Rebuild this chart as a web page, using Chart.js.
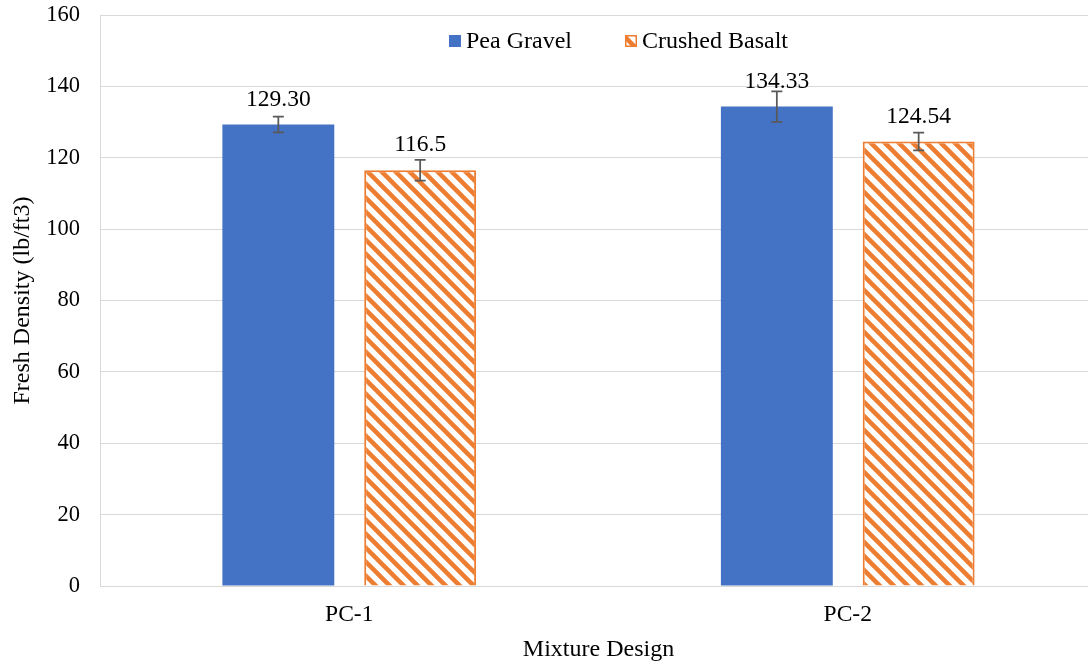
<!DOCTYPE html>
<html>
<head>
<meta charset="utf-8">
<script src="https://cdn.jsdelivr.net/npm/chart.js@4.4.1/dist/chart.umd.min.js"></script>
<style>
  html, body { margin: 0; padding: 0; background: #fff; overflow: hidden; }
  #wrap { width: 1098px; height: 664px; }
</style>
</head>
<body>
<div id="wrap"><canvas id="densityChart" width="1098" height="664"></canvas></div>
<script>
// Chart data
const categories = ["PC-1", "PC-2"];
const seriesNames = ["Pea Gravel", "Crushed Basalt"];
const peaGravel = [129.30, 134.33];
const crushedBasalt = [116.5, 124.54];
const peaGravelErr = [2.2, 4.3];
const crushedBasaltErr = [2.9, 2.5];
const peaGravelLabels = ["129.30", "134.33"];
const crushedBasaltLabels = ["116.5", "124.54"];
const yTicks = [0, 20, 40, 60, 80, 100, 120, 140, 160];

const BLUE = "#4472C4";
const ORANGE = "#ED7D31";
const FONT = "'Liberation Serif', 'Times New Roman', serif";

// Diagonal hatch pattern for the basalt bars
function makeHatch() {
    const size = 14;
    const c = document.createElement("canvas");
    c.width = size;
    c.height = size;
    const g = c.getContext("2d");
    g.fillStyle = "#fff";
    g.fillRect(0, 0, size, size);
    g.strokeStyle = ORANGE;
    g.lineWidth = 4.5;
    for (let k = -size; k <= size; k += size) {
        g.beginPath();
        g.moveTo(k - 2, -2);
        g.lineTo(k + size + 2, size + 2);
        g.stroke();
    }
    return g.createPattern(c, "repeat");
}

const hatch = makeHatch();

// Data labels, error bars and legend drawn on top
const extrasPlugin = {
    id: "extras",
    afterDatasetsDraw(chart) {
        const ctx = chart.ctx;
        const yScale = chart.scales.y;
        const errs = [peaGravelErr, crushedBasaltErr];
        const labels = [peaGravelLabels, crushedBasaltLabels];

        ctx.save();
        ctx.font = "23.5px " + FONT;
        ctx.fillStyle = "#000";
        ctx.textAlign = "center";
        ctx.textBaseline = "middle";
        chart.data.datasets.forEach((ds, i) => {
            chart.getDatasetMeta(i).data.forEach((bar, j) => {
                ctx.fillText(labels[i][j], bar.x, bar.y - 25);
            });
        });

        // error bars
        ctx.strokeStyle = "#595959";
        ctx.lineWidth = 1.75;
        chart.data.datasets.forEach((ds, i) => {
            chart.getDatasetMeta(i).data.forEach((bar, j) => {
                const v = ds.data[j];
                const top = yScale.getPixelForValue(v + errs[i][j]);
                const bot = yScale.getPixelForValue(v - errs[i][j]);
                ctx.beginPath();
                ctx.moveTo(bar.x, top);
                ctx.lineTo(bar.x, bot);
                ctx.moveTo(bar.x - 5.5, top);
                ctx.lineTo(bar.x + 5.5, top);
                ctx.moveTo(bar.x - 5.5, bot);
                ctx.lineTo(bar.x + 5.5, bot);
                ctx.stroke();
            });
        });

        // legend
        ctx.font = "24px " + FONT;
        ctx.textAlign = "left";
        ctx.fillStyle = BLUE;
        ctx.fillRect(449, 35, 12, 12);
        ctx.fillStyle = "#000";
        ctx.fillText(seriesNames[0], 466, 42);
        ctx.fillStyle = hatch;
        ctx.fillRect(625, 35, 12, 12);
        ctx.strokeStyle = ORANGE;
        ctx.lineWidth = 1.5;
        ctx.strokeRect(625.75, 35.75, 10.5, 10.5);
        ctx.fillStyle = "#000";
        ctx.fillText(seriesNames[1], 642, 42);
        ctx.restore();
    }
};

const ctx = document.getElementById("densityChart").getContext("2d");

new Chart(ctx, {
    type: "bar",
    data: {
        labels: categories,
        datasets: [{
            label: seriesNames[0],
            data: peaGravel,
            backgroundColor: BLUE,
            borderWidth: 0
        }, {
            label: seriesNames[1],
            data: crushedBasalt,
            backgroundColor: hatch,
            borderColor: ORANGE,
            borderWidth: 2
        }]
    },
    options: {
        responsive: false,
        animation: false,
        layout: { padding: { top: 15, right: 1, left: 0, bottom: 0 } },
        categoryPercentage: 0.569,
        barPercentage: 0.789,
        plugins: {
            legend: { display: false },
            tooltip: { enabled: false }
        },
        scales: {
            x: {
                grid: { display: false, drawTicks: false },
                border: { color: "#D9D9D9", width: 1 },
                ticks: { color: "#000", font: { family: FONT, size: 23.5 }, padding: 15 },
                title: {
                    display: true,
                    text: "Mixture Design",
                    color: "#000",
                    font: { family: FONT, size: 24 },
                    padding: { top: 0, bottom: 0 }
                },
                afterFit(scale) { scale.height = 78; }
            },
            y: {
                min: 0,
                max: 160,
                afterBuildTicks(scale) { scale.ticks = yTicks.map(v => ({ value: v })); },
                grid: { color: "#D9D9D9", lineWidth: 1, drawTicks: false },
                border: { color: "#D9D9D9", width: 1 },
                ticks: { color: "#000", font: { family: FONT, size: 22.5 }, padding: 20 },
                title: {
                    display: true,
                    text: "Fresh Density (lb/ft3)",
                    color: "#000",
                    font: { family: FONT, size: 24 },
                    padding: { top: 8, bottom: 0 }
                },
                afterFit(scale) {
                    scale.width = 100;
                    scale.paddingTop = 0;
                    scale.paddingBottom = 0;
                }
            }
        }
    },
    plugins: [extrasPlugin]
});
</script>
</body>
</html>
